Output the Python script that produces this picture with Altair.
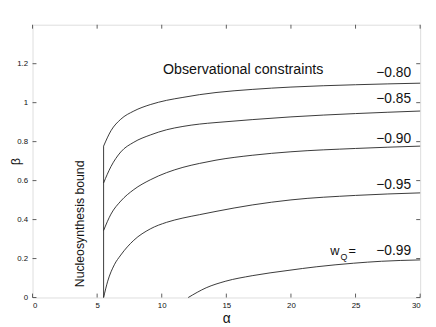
import altair as alt
import pandas as pd

# ---- data ----
x_a = [5.5, 6.07, 6.83, 7.84, 9.11, 10.38, 11.64, 12.91, 14.2, 17, 20, 25, 30]
beta_080 = [0.777, 0.856, 0.915, 0.957, 0.990, 1.012, 1.027, 1.041, 1.052, 1.068, 1.080, 1.092, 1.100]
beta_085 = [0.588, 0.672, 0.747, 0.797, 0.834, 0.861, 0.878, 0.890, 0.898, 0.913, 0.927, 0.944, 0.957]
beta_090 = [0.344, 0.428, 0.495, 0.554, 0.604, 0.641, 0.668, 0.688, 0.705, 0.730, 0.748, 0.765, 0.777]
x_095 = [5.5, 5.82, 6.33, 6.83, 7.84, 9.11, 10.38, 11.64, 12.91, 14.2, 17, 20, 25, 30]
beta_095 = [0.000, 0.084, 0.168, 0.218, 0.294, 0.352, 0.386, 0.408, 0.425, 0.442, 0.475, 0.501, 0.524, 0.537]
x_099 = [12.05, 13.44, 14.96, 17, 19.77, 22, 24.83, 27, 30]
beta_099 = [0.000, 0.050, 0.084, 0.112, 0.139, 0.158, 0.176, 0.186, 0.193]
bound_x = [5.5, 5.5]
bound_y = [0.0, 0.777]

x_ticks = [0, 5, 10, 15, 20, 25, 30]
y_ticks = [0, 0.2, 0.4, 0.6, 0.8, 1.0, 1.2]

label_text = ["\u22120.80", "\u22120.85", "\u22120.90", "\u22120.95", "\u22120.99"]
label_x = [27.95, 27.95, 27.95, 27.95, 27.95]
label_y = [1.150, 1.016, 0.814, 0.579, 0.238]

rows = []
for name, xs_, ys_ in [("-0.80", x_a, beta_080), ("-0.85", x_a, beta_085),
                       ("-0.90", x_a, beta_090), ("-0.95", x_095, beta_095),
                       ("-0.99", x_099, beta_099)]:
    for i, (a, b) in enumerate(zip(xs_, ys_)):
        rows.append({"series": name, "alpha": a, "beta": b, "i": i})
curves = pd.DataFrame(rows)
bound = pd.DataFrame({"alpha": bound_x, "beta": bound_y, "i": [0, 1]})

FONT = "Liberation Sans"
W, H = 395, 278

xs = alt.Scale(domain=[0, 30], nice=False)
ys = alt.Scale(domain=[0, 1.4], nice=False)

x_enc = alt.X("alpha:Q", scale=xs,
              axis=alt.Axis(title="\u03b1", values=x_ticks, tickSize=0, domain=False, grid=False,
                            labelFont=FONT, labelFontSize=8, labelColor="#111", labelPadding=4,
                            titleFont=FONT, titleFontSize=14, titleFontWeight="normal",
                            titleColor="#111", titlePadding=2))
y_enc = alt.Y("beta:Q", scale=ys,
              axis=alt.Axis(title="\u03b2", values=y_ticks, tickSize=0, domain=False, grid=False,
                            labelExpr="'' + datum.value",
                            labelFont=FONT, labelFontSize=8, labelColor="#111", labelPadding=5,
                            titleFont=FONT, titleFontSize=13, titleFontWeight="normal",
                            titleColor="#111", titleX=-10, titleY=139,
                            titleAngle=270, titleBaseline="bottom", titleAlign="center"))

lines = alt.Chart(curves).mark_line(color="#222", strokeWidth=0.9, interpolate="monotone").encode(
    x=x_enc, y=y_enc, detail="series:N", order="i:Q")
bound_line = alt.Chart(bound).mark_line(color="#222", strokeWidth=0.9).encode(
    x=alt.X("alpha:Q", scale=xs), y=alt.Y("beta:Q", scale=ys), order="i:Q")

xt = pd.DataFrame({"t": x_ticks})
yt = pd.DataFrame({"t": y_ticks})
tick_style = dict(color="#333", strokeWidth=0.8)
tick_bottom = alt.Chart(xt).mark_rule(**tick_style).encode(
    x=alt.X("t:Q", scale=xs), y=alt.value(H), y2=alt.value(H - 4))
tick_top = alt.Chart(xt).mark_rule(**tick_style).encode(
    x=alt.X("t:Q", scale=xs), y=alt.value(0), y2=alt.value(4))
tick_left = alt.Chart(yt).mark_rule(**tick_style).encode(
    y=alt.Y("t:Q", scale=ys), x=alt.value(0), x2=alt.value(4))
tick_right = alt.Chart(yt).mark_rule(**tick_style).encode(
    y=alt.Y("t:Q", scale=ys), x=alt.value(W), x2=alt.value(W - 4))

lab_df = pd.DataFrame({"x": label_x, "y": label_y, "t": label_text})
labels = alt.Chart(lab_df).mark_text(font=FONT, fontSize=14, color="#111").encode(
    x=alt.X("x:Q", scale=xs), y=alt.Y("y:Q", scale=ys), text="t:N")

obs = alt.Chart(pd.DataFrame({"x": [16.3], "y": [1.167], "t": ["Observational constraints"]})).mark_text(
    font=FONT, fontSize=14.5, color="#111").encode(
    x=alt.X("x:Q", scale=xs), y=alt.Y("y:Q", scale=ys), text="t:N")

wq_main = alt.Chart(pd.DataFrame({"x": [23.39, 24.75], "y": [0.236, 0.240], "t": ["w", "="]})).mark_text(
    font=FONT, fontSize=13, color="#111").encode(
    x=alt.X("x:Q", scale=xs), y=alt.Y("y:Q", scale=ys), text="t:N")
wq_sub = alt.Chart(pd.DataFrame({"x": [24.1], "y": [0.208], "t": ["Q"]})).mark_text(
    font=FONT, fontSize=9, color="#111").encode(
    x=alt.X("x:Q", scale=xs), y=alt.Y("y:Q", scale=ys), text="t:N")

nucleo = alt.Chart(pd.DataFrame({"x": [3.65], "y": [0.378], "t": ["Nucleosynthesis bound"]})).mark_text(
    font=FONT, fontSize=12.5, color="#111", angle=270).encode(
    x=alt.X("x:Q", scale=xs), y=alt.Y("y:Q", scale=ys), text="t:N")

chart = alt.layer(
    lines, bound_line, tick_bottom, tick_top, tick_left, tick_right, labels, obs, wq_main, wq_sub, nucleo
).properties(
    width=W, height=H,
    autosize=alt.AutoSizeParams(type="none"),
    padding={"left": 25, "top": 14, "right": 8, "bottom": 27},
).configure_view(
    stroke="#444", strokeWidth=1
).configure(background="white")

chart.save("out.html", embed_options={"renderer": "svg", "actions": False})
